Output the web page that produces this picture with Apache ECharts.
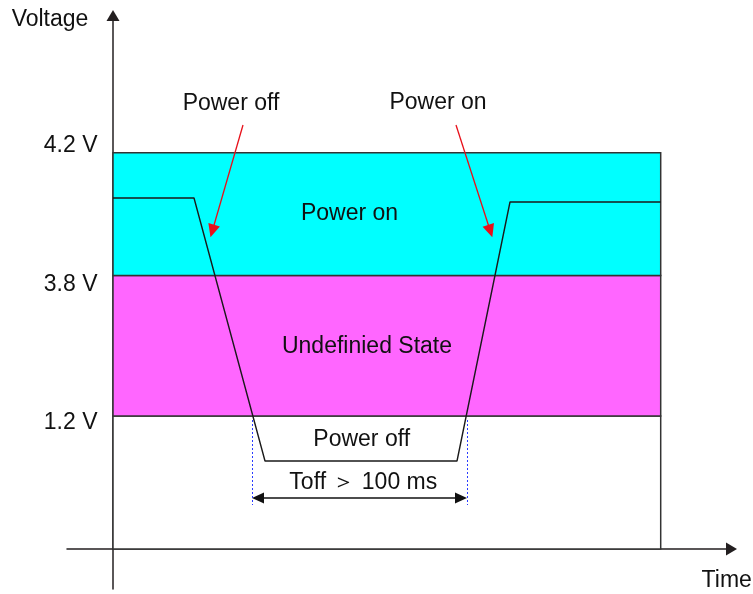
<!DOCTYPE html>
<html><head><meta charset="utf-8">
<script src="https://cdn.jsdelivr.net/npm/echarts@6/dist/echarts.min.js"></script>
<style>html,body{margin:0;padding:0;background:#fff}#c{width:753px;height:594px}</style>
</head><body><div id="c"></div>
<script>
// Schematic diagram units: x = time units from origin, y = display height above the time axis
const levelNames = ['1.2 V', '3.8 V', '4.2 V'];
const levelHeights = [133, 273.5, 396.3];
const bandNames = ['Power off', 'Undefinied State', 'Power on'];
const bandColors = ['#ffffff', '#ff66ff', '#00ffff'];
const bandEndTime = 547.7;
const traceTime = [0, 81, 152, 344, 397, 547.7];
const traceLevel = [351, 351, 88, 88, 347, 347];
const eventNames = ['Power off', 'Power on'];
const toffText = 'Toff \uFF1E 100 ms';
const toffStart = 139, toffEnd = 354;
const axisNames = ['Time', 'Voltage'];

// layout (positions of texts / annotation arrows)
const levelLabelPos = [126.5, 264.3, 403.2];
const levelLabelRight = -15.5;
const bandLabelPos = [[248.7, 109], [254, 202.3], [236.5, 335.7]];
const eventLabelPos = [[118, 445.7], [325, 446]];
const eventArrowFrom = [[130, 424], [343, 424]];
const eventArrowTo = [[99.3, 318], [377.3, 318]];
const toffLabelPos = [250.3, 66];
const toffArrowY = 51;
const toffMarkerSpan = [44, 129];
const axisNamePos = [[613.7, -31.3], [-63, 529]];

const FONT = '"Liberation Sans", Arial, sans-serif';
const AXIS = '#231f20';
const FS = 23;

const bandData = bandNames.map((n, i) => [i === 0 ? 0 : levelHeights[i - 1], levelHeights[i], i]);

const textData = [];
bandNames.forEach((n, i) => textData.push({name: n, value: bandLabelPos[i]}));
eventNames.forEach((n, i) => textData.push({name: n, value: eventLabelPos[i]}));
textData.push({name: toffText, value: toffLabelPos});
axisNames.forEach((n, i) => textData.push({name: n, value: axisNamePos[i]}));

const levelTextData = levelNames.map((n, i) => ({name: n, value: [levelLabelRight, levelLabelPos[i]]}));

const markLines = [];
eventNames.forEach((n, i) => {
  markLines.push([
    {coord: eventArrowFrom[i], symbol: 'none', lineStyle: {color: '#e8101a', width: 1.3, type: 'solid'}},
    {coord: eventArrowTo[i], symbol: 'triangle', symbolSize: [12, 13]}
  ]);
});
markLines.push([
  {coord: [toffStart + 6, toffArrowY], symbol: 'triangle', symbolSize: [11, 12], lineStyle: {color: '#111', width: 1.5, type: 'solid'}},
  {coord: [toffEnd - 6, toffArrowY], symbol: 'triangle', symbolSize: [11, 12]}
]);
[toffStart, toffEnd].forEach(x => {
  markLines.push([
    {coord: [x, toffMarkerSpan[1]], symbol: 'none', lineStyle: {color: '#2a3cff', width: 1, type: [2, 2]}},
    {coord: [x, toffMarkerSpan[0]], symbol: 'none'}
  ]);
});

const textLabel = {show: true, position: 'inside', formatter: p => p.name, color: '#111', opacity: 1,
  textBorderWidth: 0, fontSize: FS, fontFamily: FONT};

const chart = echarts.init(document.getElementById('c'), null, {renderer: 'canvas'});
chart.setOption({
  animation: false,
  backgroundColor: '#fff',
  grid: {left: 67, right: 21.5, top: 15.5, bottom: 5, containLabel: false, outerBoundsMode: 'none'},
  xAxis: {
    type: 'value', min: -46, max: 618.5,
    axisLine: {onZero: true, symbol: ['none', 'triangle'], symbolSize: [13, 11], lineStyle: {color: AXIS, width: 1.5}},
    axisTick: {show: false}, axisLabel: {show: false}, splitLine: {show: false}
  },
  yAxis: {
    type: 'value', min: -40, max: 533.5,
    axisLine: {onZero: true, symbol: ['none', 'triangle'], symbolSize: [13, 11], lineStyle: {color: AXIS, width: 1.5}},
    axisTick: {show: false}, splitLine: {show: false}, axisLabel: {show: false}
  },
  series: [
    {
      type: 'custom', z: 1, silent: true, clip: false,
      data: bandData,
      renderItem: (params, api) => {
        const lo = api.value(0), hi = api.value(1), idx = api.value(2);
        const p1 = api.coord([0, hi]);
        const p2 = api.coord([bandEndTime, lo]);
        return {
          type: 'rect',
          shape: {x: p1[0], y: p1[1], width: p2[0] - p1[0], height: p2[1] - p1[1]},
          style: {fill: bandColors[idx], stroke: '#333', lineWidth: 1.5}
        };
      }
    },
    {
      type: 'line', z: 3, silent: true, symbol: 'none',
      data: traceTime.map((t, i) => [t, traceLevel[i]]),
      lineStyle: {color: '#1a1a1a', width: 1.4},
      markLine: {silent: true, animation: false, label: {show: false}, symbol: ['none', 'none'], data: markLines}
    },
    {
      type: 'scatter', z: 5, silent: true, clip: false, symbolSize: 0,
      itemStyle: {opacity: 1},
      data: textData,
      label: textLabel
    },
    {
      type: 'scatter', z: 5, silent: true, clip: false, symbolSize: 0,
      itemStyle: {opacity: 1},
      data: levelTextData,
      label: Object.assign({}, textLabel, {align: 'right'})
    }
  ]
});
</script>
</body></html>
